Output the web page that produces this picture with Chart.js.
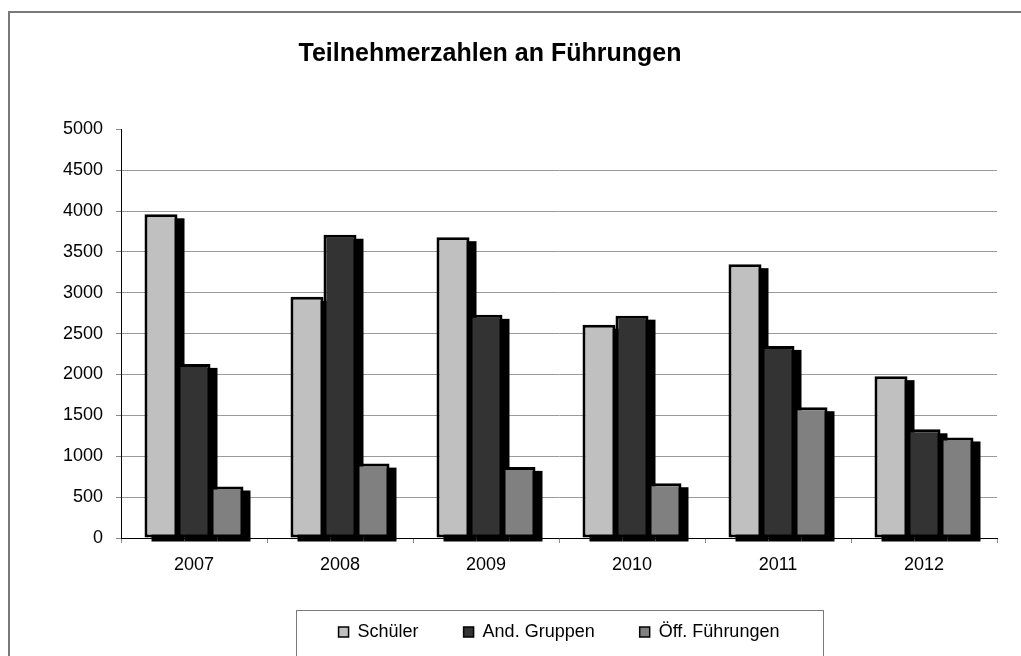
<!DOCTYPE html>
<html>
<head>
<meta charset="utf-8">
<script src="https://cdn.jsdelivr.net/npm/chart.js@4/dist/chart.umd.min.js"></script>
<style>
  html, body { margin: 0; padding: 0; background: #ffffff; overflow: hidden; }
  canvas { display: block; }
</style>
</head>
<body>
<canvas id="c" width="1021" height="656"></canvas>
<script>
const categories = ['2007', '2008', '2009', '2010', '2011', '2012'];
const seriesNames = ['Schüler', 'And. Gruppen', 'Öff. Führungen'];
const schueler = [3960, 2950, 3680, 2610, 3350, 1980];
const andGruppen = [2130, 3710, 2730, 2720, 2350, 1330];
const oeffFuehrungen = [630, 910, 870, 670, 1600, 1230];
const seriesColors = ['#c0c0c0', '#333333', '#808080'];
const titleText = 'Teilnehmerzahlen an Führungen';

const FONT = "'Liberation Sans', Arial, sans-serif";

const framePlugin = {
  id: 'frame',
  beforeDraw(chart) {
    const ctx = chart.ctx;
    ctx.save();
    ctx.fillStyle = '#ffffff';
    ctx.fillRect(0, 0, chart.width, chart.height);
    ctx.strokeStyle = '#7a7a7a';
    ctx.lineWidth = 2;
    ctx.strokeRect(9, 12, 1100, 1000);
    ctx.restore();
  }
};

const titleShift = {
  id: 'titleShift',
  afterLayout(chart) {
    const tb = chart.titleBlock;
    if (tb) {
      tb.left = 2 * 490 - tb.right;
    }
  }
};

const shadowPlugin = {
  id: 'barShadow',
  beforeDatasetsDraw(chart) {
    const ctx = chart.ctx;
    ctx.save();
    ctx.fillStyle = '#000000';
    chart.getSortedVisibleDatasetMetas().forEach(meta => {
      meta.data.forEach(el => {
        const p = el.getProps(['x', 'y', 'base', 'width'], true);
        ctx.fillRect(p.x - p.width / 2 + 7, p.y + 4, p.width, p.base - p.y);
      });
    });
    ctx.restore();
  }
};

const legendFrame = {
  id: 'legendFrame',
  afterDraw(chart) {
    const lg = chart.legend;
    if (!lg || !lg.legendHitBoxes || !lg.legendHitBoxes.length) return;
    const hb = lg.legendHitBoxes;
    const first = hb[0], last = hb[hb.length - 1];
    const left = first.left - 43;
    const right = last.left + last.width + 43;
    const top = first.top + first.height / 2 - 22;
    const ctx = chart.ctx;
    ctx.save();
    ctx.strokeStyle = '#7a7a7a';
    ctx.lineWidth = 1;
    ctx.strokeRect(Math.round(left) + 0.5, Math.round(top) + 0.5, Math.round(right - left), 200);
    ctx.restore();
  }
};

new Chart(document.getElementById('c'), {
  type: 'bar',
  data: {
    labels: categories,
    datasets: [
      { label: seriesNames[0], data: schueler, backgroundColor: seriesColors[0], borderColor: '#000', borderWidth: 3, borderSkipped: false },
      { label: seriesNames[1], data: andGruppen, backgroundColor: seriesColors[1], borderColor: '#000', borderWidth: 3, borderSkipped: false },
      { label: seriesNames[2], data: oeffFuehrungen, backgroundColor: seriesColors[2], borderColor: '#000', borderWidth: 3, borderSkipped: false }
    ]
  },
  options: {
    responsive: false,
    animation: false,
    events: [],
    layout: { padding: { left: 0, right: 24, top: 0, bottom: 5 } },
    datasets: { bar: { categoryPercentage: 0.678, barPercentage: 1.0 } },
    scales: {
      x: {
        offset: true,
        border: { display: true, color: '#000000', width: 1 },
        grid: { display: true, offset: true, drawOnChartArea: false, tickLength: 5, color: '#8a8a8a' },
        ticks: { color: '#000', font: { family: FONT, size: 18 }, padding: 11, maxRotation: 0 },
        afterFit(scale) { scale.height = 40; }
      },
      y: {
        min: 0, max: 5000,
        border: { display: true, color: '#000000', width: 1 },
        grid: {
          color: (c) => (c.tick && c.tick.value === 5000) ? 'rgba(0,0,0,0)' : '#9a9a9a',
          tickColor: '#8a8a8a',
          tickLength: 5,
          lineWidth: 1
        },
        ticks: {
          stepSize: 500, color: '#000', font: { family: FONT, size: 18 }, padding: 13,
          callback: (v) => String(v)
        },
        afterFit(scale) { scale.width = 121; }
      }
    },
    plugins: {
      title: {
        display: true,
        text: titleText,
        color: '#000',
        font: { family: FONT, size: 25, weight: 'bold' },
        padding: { top: 39, bottom: 60.3 }
      },
      legend: {
        display: true,
        position: 'bottom',
        fullSize: false,
        labels: {
          color: '#000',
          font: { family: FONT, size: 18 },
          boxWidth: 10,
          boxHeight: 10,
          padding: 45,
          generateLabels(chart) {
            const items = Chart.defaults.plugins.legend.labels.generateLabels(chart);
            items.forEach(it => { it.lineWidth = 1.5; it.strokeStyle = '#000'; });
            return items;
          }
        }
      },
      tooltip: { enabled: false }
    }
  },
  plugins: [framePlugin, titleShift, shadowPlugin, legendFrame]
});
</script>
</body>
</html>
